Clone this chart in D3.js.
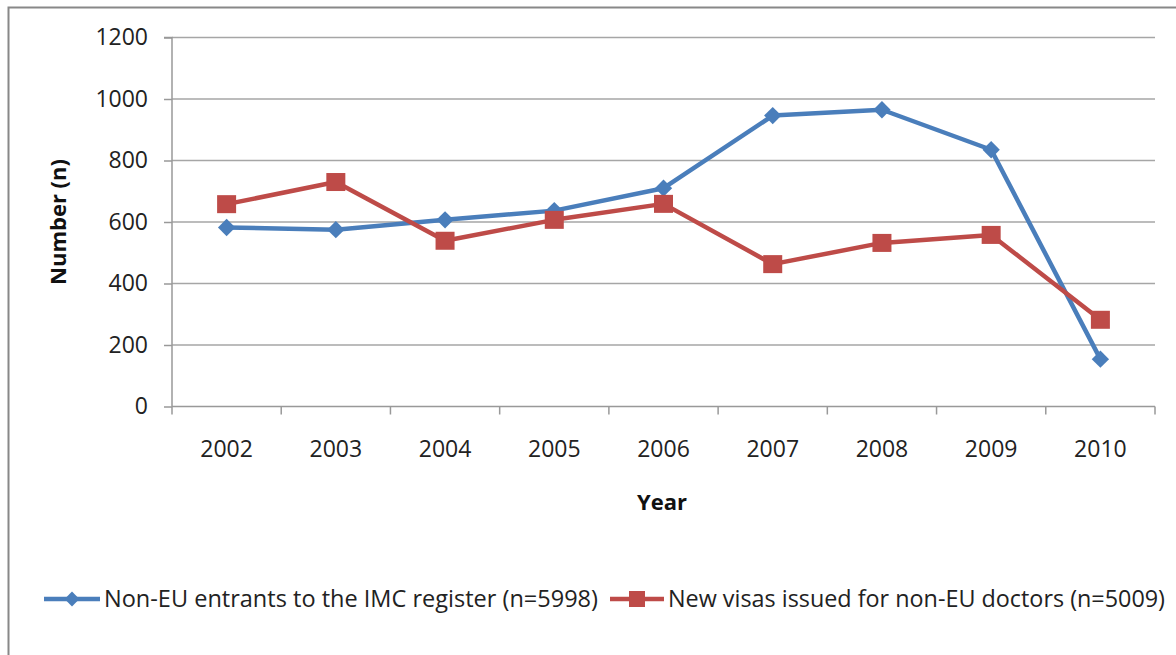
<!DOCTYPE html>
<html><head><meta charset="utf-8">
<script src="https://cdn.jsdelivr.net/npm/d3@7"></script>
<style>html,body{margin:0;padding:0;background:#fff;}svg{display:block;}</style>
</head><body>
<svg id="chart" width="1176" height="655"></svg>
<script>
const years = ["2002","2003","2004","2005","2006","2007","2008","2009","2010"];
const imcEntrants = [582, 575, 607, 637, 710, 946, 965, 835, 154];
const newVisas = [658, 730, 539, 607, 659, 463, 532, 558, 282];
const yTicks = [0, 200, 400, 600, 800, 1000, 1200];
const seriesNames = ["Non-EU entrants to the IMC register (n=5998)", "New visas issued for non-EU doctors (n=5009)"];

(function(){
const svg = d3.select("#chart");
const font = "'Open Sans', Lato, sans-serif";
const pLeft = 172, pRight = 1155, pTop = 37.5, pBottom = 406.5;

// outer border
svg.append("path").attr("d", "M8.5,655 L8.5,7.5 L1176,7.5").attr("fill","none").attr("stroke","#888").attr("stroke-width",2);

const x = d3.scaleBand().domain(years).range([pLeft, pRight]).paddingInner(0).paddingOuter(0);
const y = d3.scaleLinear().domain([0, 1200]).range([pBottom, pTop]);

// gridlines
svg.append("g").selectAll("line").data(yTicks.filter(d=>d>0)).join("line")
  .attr("x1", pLeft).attr("x2", pRight).attr("y1", d=>y(d)).attr("y2", d=>y(d))
  .attr("stroke", "#a6a6a6").attr("stroke-width", 1.5);

// y axis
const yAxis = svg.append("g").attr("transform", `translate(${pLeft},0)`)
  .call(d3.axisLeft(y).tickValues(yTicks).tickSize(8).tickPadding(16).tickFormat(d3.format("d")));
yAxis.select(".domain").attr("stroke", "#999").attr("stroke-width", 1.5).attr("d", `M-8,${pTop}H0V${pBottom}`);
yAxis.selectAll(".tick line").attr("stroke", "#999").attr("stroke-width", 1.5);
yAxis.selectAll(".tick text").attr("font-family", font).attr("font-size", 23).attr("fill", "#222");

// x axis
const xAxis = svg.append("g").attr("transform", `translate(0,${pBottom})`)
  .call(d3.axisBottom(x).tickSize(0).tickPadding(34));
xAxis.select(".domain").attr("stroke", "#999").attr("stroke-width", 1.5).attr("d", `M${pLeft},0H${pRight}`);
xAxis.selectAll(".tick text").attr("font-family", font).attr("font-size", 23).attr("fill", "#222");
const bounds = years.map(d => x(d)).concat([pRight]);
xAxis.append("g").selectAll("line").data(bounds).join("line")
  .attr("x1", d=>d).attr("x2", d=>d).attr("y1", 0).attr("y2", 8)
  .attr("stroke", "#999").attr("stroke-width", 1.5);

// axis titles
svg.append("text").attr("transform", `translate(66,222) rotate(-90)`).attr("text-anchor","middle")
  .attr("font-family", font).attr("font-weight","bold").attr("font-size", 22).attr("fill","#111").text("Number (n)");
svg.append("text").attr("x", 662).attr("y", 510).attr("text-anchor","middle")
  .attr("font-family", font).attr("font-weight","bold").attr("font-size", 22).attr("fill","#111").text("Year");

const cx = d => x(d) + x.bandwidth()/2;
const line = d3.line().x((d,i)=>cx(years[i])).y(d=>y(d));
const blue = "#4a7ebb", red = "#be4b48";

function drawSeries(vals, color, marker) {
  svg.append("path").datum(vals).attr("d", line).attr("fill","none")
    .attr("stroke", color).attr("stroke-width", 4.5).attr("stroke-linejoin","round");
  const g = svg.append("g");
  if (marker === "diamond") {
    g.selectAll("path").data(vals).join("path")
      .attr("transform", (d,i)=>`translate(${cx(years[i])},${y(d)}) rotate(45)`)
      .attr("d", d3.symbol().type(d3.symbolSquare).size(150)).attr("fill", color);
  } else {
    g.selectAll("rect").data(vals).join("rect")
      .attr("x", (d,i)=>cx(years[i])-9.5).attr("y", d=>y(d)-9)
      .attr("width", 19).attr("height", 18).attr("fill", color);
  }
}
drawSeries(imcEntrants, blue, "diamond");
drawSeries(newVisas, red, "square");

// legend
const leg = svg.append("g");
const legItems = [
  {name: seriesNames[0], color: blue, marker: "diamond", x0: 44, x1: 100, tx: 104, tw: 494},
  {name: seriesNames[1], color: red, marker: "square", x0: 610, x1: 664, tx: 668, tw: 497}
];
const ly = 599;
legItems.forEach(it => {
  leg.append("line").attr("x1", it.x0).attr("x2", it.x1).attr("y1", ly).attr("y2", ly)
    .attr("stroke", it.color).attr("stroke-width", 4.5);
  const mx = (it.x0 + it.x1)/2;
  if (it.marker === "diamond") {
    leg.append("path").attr("transform", `translate(${mx},${ly}) rotate(45)`)
      .attr("d", d3.symbol().type(d3.symbolSquare).size(110)).attr("fill", it.color);
  } else {
    leg.append("rect").attr("x", mx-8).attr("y", ly-8).attr("width", 16).attr("height", 16).attr("fill", it.color);
  }
  leg.append("text").attr("x", it.tx).attr("y", ly + 8).attr("font-family", font).attr("font-size", 23)
    .attr("fill", "#222").attr("textLength", it.tw).attr("lengthAdjust", "spacingAndGlyphs").text(it.name);
});
})();
</script>
</body></html>
